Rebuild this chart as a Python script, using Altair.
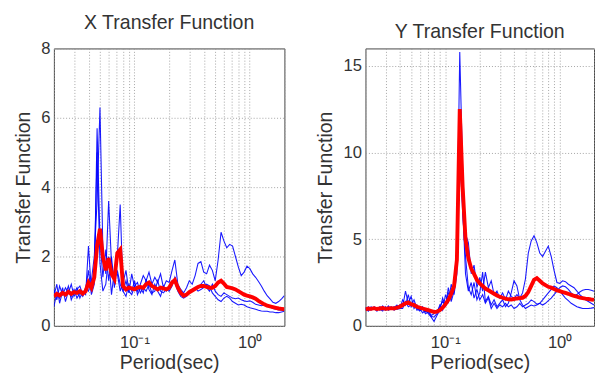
import altair as alt
import pandas as pd

# Shared period grid (sec), log-spaced by eye
PERIOD = [0.02, 0.0212, 0.0224, 0.0238, 0.0252, 0.0267, 0.0283, 0.0299, 0.0317, 0.0336,
          0.0356, 0.0377, 0.0399, 0.0423, 0.0448, 0.0474, 0.0502, 0.0532, 0.0564, 0.0597,
          0.0632, 0.067, 0.071, 0.0752, 0.0796, 0.0844, 0.0894, 0.0947, 0.1003, 0.1062,
          0.1125, 0.1192, 0.1262, 0.1337, 0.1417, 0.1501, 0.159, 0.1684, 0.1783, 0.1889,
          0.2, 0.212, 0.224, 0.238, 0.252, 0.267, 0.283, 0.299, 0.317, 0.336,
          0.356, 0.377, 0.399, 0.423, 0.448, 0.474, 0.502, 0.532, 0.564, 0.597,
          0.632, 0.67, 0.71, 0.752, 0.796, 0.844, 0.894, 0.947, 1.003, 1.062,
          1.125, 1.192, 1.262, 1.337, 1.417, 1.501, 1.59, 1.684, 1.783, 1.889, 2.0]

# ---- X direction ----
X_BLUE_1 = [1.05, 0.75, 1.15, 0.9, 1.1, 0.95, 1.2, 0.85, 1.05, 1.15, 0.9, 1.1,
            1.0, 1.3, 2.0, 3.6, 6.3, 2.2, 1.5, 3.6, 1.8, 1.3, 1.6, 1.2, 1.0, 1.3, 0.95, 1.5,
            1.1, 1.0, 1.2, 1.45, 1.3, 1.55, 1.2, 1.4, 1.25, 1.5, 1.1, 1.3, 1.25, 1.6, 1.9,
            1.2, 1.05, 0.95, 1.1, 1.3, 1.2, 1.45, 1.8, 1.85, 1.55, 1.5, 1.75, 1.6, 1.3,
            1.9, 2.7, 2.45, 2.25, 2.35, 2.3, 2.0, 1.7, 1.45, 1.55, 1.72, 1.65, 1.5, 1.4,
            1.28, 1.15, 1.0, 0.87, 0.78, 0.68, 0.65, 0.7, 0.78, 0.87]
X_BLUE_2 = [0.55, 0.95, 0.8, 1.1, 0.7, 1.0, 0.85, 1.05, 0.8, 0.95, 0.85, 1.05,
            1.6, 0.9, 1.2, 5.7, 2.5, 1.4, 2.2, 1.3, 2.0, 1.1, 2.0, 3.5, 1.0, 0.85, 1.2, 1.0,
            1.3, 0.9, 1.1, 0.95, 1.35, 1.05, 0.9, 1.2, 1.0, 0.85, 1.15, 1.0, 1.1, 1.3, 1.25,
            1.0, 0.85, 0.8, 0.85, 0.95, 1.0, 1.05, 1.1, 1.2, 1.3, 1.1, 1.0, 1.2, 1.0,
            0.9, 0.85, 0.95, 0.9, 0.85, 0.8, 0.78, 0.8, 0.75, 0.72, 0.7, 0.72, 0.68, 0.62,
            0.6, 0.58, 0.6, 0.6, 0.55, 0.5, 0.48, 0.46, 0.45, 0.45]
X_BLUE_3 = [0.85, 1.2, 0.65, 1.0, 0.9, 1.15, 0.75, 0.95, 1.1, 0.8, 1.0, 0.9,
            2.3, 1.0, 1.5, 5.0, 1.8, 1.0, 1.2, 2.0, 0.9, 1.6, 1.5, 1.0, 1.25, 1.6, 1.0, 0.9,
            1.15, 1.25, 0.95, 1.1, 1.0, 1.2, 0.95, 1.0, 1.3, 1.0, 0.95, 1.05, 1.0, 1.15, 1.4,
            1.05, 0.9, 0.85, 0.9, 1.0, 1.05, 1.1, 1.0, 1.05, 1.1, 1.2, 1.15, 0.95, 0.85,
            0.75, 0.7, 0.8, 0.85, 0.8, 0.7, 0.65, 0.6, 0.62, 0.6, 0.55, 0.52, 0.5, 0.48,
            0.45, 0.43, 0.42, 0.42, 0.4, 0.4, 0.38, 0.38, 0.4, 0.42]
X_MEAN = [0.85, 0.92, 0.88, 0.95, 0.9, 0.98, 0.92, 0.97, 0.95, 1.0, 0.93, 1.0,
          1.25, 1.1, 1.4, 2.3, 2.8, 2.0, 1.6, 1.95, 1.5, 1.35, 2.1, 2.2, 1.15, 1.05, 1.1, 1.08,
          1.05, 1.1, 1.12, 1.1, 1.2, 1.25, 1.15, 1.1, 1.05, 1.1, 1.08, 1.05, 1.1, 1.25, 1.32,
          1.1, 0.95, 0.87, 0.9, 0.97, 1.02, 1.07, 1.12, 1.15, 1.15, 1.12, 1.1, 1.1, 1.15,
          1.25, 1.3, 1.22, 1.12, 1.1, 1.08, 1.05, 1.0, 0.95, 0.9, 0.87, 0.85, 0.82, 0.78,
          0.72, 0.67, 0.62, 0.58, 0.56, 0.54, 0.52, 0.5, 0.49, 0.48]

# ---- Y direction ----
Y_BLUE_1 = [1.0, 0.85, 1.1, 0.95, 1.05, 0.9, 1.15, 0.95, 1.0, 1.1, 0.9, 1.05, 1.2,
            1.1, 2.0, 1.3, 1.7, 1.0, 1.2, 0.9, 1.1, 0.8, 0.9, 0.6, 0.7, 0.85, 1.1, 1.4,
            1.2, 1.9, 1.6, 2.5, 4.5, 15.8, 9.0, 5.3, 4.8, 3.0, 3.5, 2.2, 2.8, 2.0, 3.1,
            2.2, 2.6, 1.8, 2.0, 1.6, 1.9, 1.5, 2.0, 1.7, 1.6, 1.8, 1.6, 1.9, 2.7, 4.2,
            4.9, 5.2, 4.8, 4.2, 4.0, 4.3, 4.6, 4.0, 3.2, 2.5, 2.45, 2.6, 2.55, 2.4, 2.3,
            2.2, 2.0, 1.8, 1.65, 1.5, 1.4, 1.3, 1.2]
Y_BLUE_2 = [0.9, 1.1, 0.95, 1.0, 0.85, 1.1, 1.0, 0.9, 1.15, 0.95, 1.05, 1.2, 1.0,
            1.5, 1.2, 1.8, 1.1, 1.3, 0.9, 1.0, 0.75, 0.9, 0.7, 0.5, 0.25, 0.6, 0.9, 1.6,
            1.1, 2.2, 1.4, 2.0, 3.5, 11.0, 6.5, 4.0, 2.2, 1.8, 2.5, 1.5, 1.9, 3.1, 1.4,
            1.7, 1.2, 1.5, 1.1, 1.3, 1.5, 1.1, 1.3, 1.9, 2.6, 2.3, 1.5, 1.2, 1.0, 1.1,
            1.2, 1.15, 1.2, 1.3, 1.2, 1.3, 1.45, 1.6, 1.8, 2.0, 2.2, 2.3, 2.25, 2.1, 1.9,
            1.75, 1.8, 1.95, 2.05, 2.1, 2.1, 2.05, 2.0]
Y_BLUE_3 = [1.05, 0.95, 0.9, 1.1, 1.0, 0.95, 0.85, 1.1, 0.9, 1.0, 1.1, 0.95, 1.0,
            1.0, 1.4, 1.1, 1.2, 1.5, 1.0, 0.85, 1.0, 0.7, 0.8, 0.55, 0.5, 0.7, 1.2, 0.9,
            1.8, 1.3, 2.4, 1.8, 3.0, 9.5, 7.0, 3.0, 2.0, 2.5, 1.6, 2.1, 1.5, 1.8, 1.3,
            1.6, 1.0, 1.3, 1.0, 1.2, 1.1, 1.3, 1.1, 1.2, 1.0, 1.1, 1.3, 1.1, 1.2, 1.3,
            1.5, 1.4, 1.25, 1.3, 1.5, 1.7, 1.9, 2.1, 2.3, 2.2, 2.0, 1.8, 1.6, 1.45, 1.3,
            1.2, 1.1, 1.05, 1.0, 1.0, 1.0, 1.02, 1.05]
Y_MEAN = [0.95, 1.0, 0.98, 1.02, 0.97, 1.0, 1.03, 0.98, 1.0, 1.02, 1.0, 1.05, 1.1,
          1.2, 1.3, 1.35, 1.25, 1.2, 1.1, 1.05, 1.0, 0.95, 0.9, 0.85, 0.8, 0.82, 0.9, 1.05,
          1.25, 1.5, 1.85, 2.3, 3.8, 12.5, 8.0, 5.0, 3.9, 3.3, 3.0, 2.65, 2.45, 2.3, 2.15,
          2.05, 1.95, 1.85, 1.75, 1.68, 1.62, 1.57, 1.53, 1.52, 1.55, 1.58, 1.6, 1.62, 1.72,
          1.95, 2.3, 2.65, 2.75, 2.6, 2.45, 2.35, 2.25, 2.2, 2.12, 2.05, 2.0, 1.95, 1.9,
          1.85, 1.78, 1.73, 1.68, 1.63, 1.6, 1.57, 1.55, 1.52, 1.5]

X_TICKS = [0.02, 0.03, 0.04, 0.05, 0.06, 0.07, 0.08, 0.09,
           0.1, 0.2, 0.3, 0.4, 0.5, 0.6, 0.7, 0.8, 0.9, 1, 2]
LEFT_Y_TICKS = [0, 2, 4, 6, 8]
RIGHT_Y_TICKS = [0, 5, 10, 15]

FONT = "Liberation Sans"


def panel(blues, mean, title, ymax, yticks, width):
    rows = []
    for name, vals in blues.items():
        for p, v in zip(PERIOD, vals):
            rows.append({"period": p, "value": v, "run": name})
    df_b = pd.DataFrame(rows)
    df_r = pd.DataFrame({"period": PERIOD, "value": mean})

    xenc = alt.X(
        "period:Q",
        scale=alt.Scale(type="log", domain=[0.02, 2], nice=False),
        axis=alt.Axis(
            values=X_TICKS,
            labelExpr="datum.value == 0.1 ? '10\u207b\u00b9' : (datum.value == 1 ? '10\u2070' : '')",
            labelOverlap=False,
            title="Period(sec)",
            labelPadding=9,
            titlePadding=3,
        ),
    )
    yenc = alt.Y(
        "value:Q",
        scale=alt.Scale(domain=[0, ymax], nice=False),
        axis=alt.Axis(values=yticks, title="Transfer Function",
                      labelPadding=4, titlePadding=8),
    )
    blue = alt.Chart(df_b).mark_line(
        color="#0000ff", strokeWidth=1.1, opacity=0.9, clip=True
    ).encode(x=xenc, y=yenc, detail="run:N")
    red = alt.Chart(df_r).mark_line(
        color="#ff0000", strokeWidth=4, clip=True
    ).encode(x=xenc, y=yenc)
    return alt.layer(blue, red).properties(
        width=width, height=284,
        title=alt.TitleParams(title, frame="group", anchor="middle"),
    )


left = panel({"a": X_BLUE_1, "b": X_BLUE_2, "c": X_BLUE_3}, X_MEAN,
             "X Transfer Function", 8, LEFT_Y_TICKS, 236)
right = panel({"a": Y_BLUE_1, "b": Y_BLUE_2, "c": Y_BLUE_3}, Y_MEAN,
              "Y Transfer Function", 16, RIGHT_Y_TICKS, 234)

chart = alt.hconcat(left, right, spacing=30).properties(
    padding={"left": 5, "top": 0, "right": 0, "bottom": 0}
).configure_view(
    stroke="#444", strokeWidth=1
).configure_axis(
    domain=False, ticks=False,
    grid=True, gridDash=[1, 2], gridColor="#999", gridOpacity=0.9,
    labelFont=FONT, labelFontSize=17, labelColor="#333",
    titleFont=FONT, titleFontSize=20, titleFontWeight="normal", titleColor="#333",
).configure_title(
    font=FONT, fontSize=20, fontWeight="normal", color="#333", offset=7
)

chart.save("out.html", embed_options={"renderer": "svg", "actions": False})
